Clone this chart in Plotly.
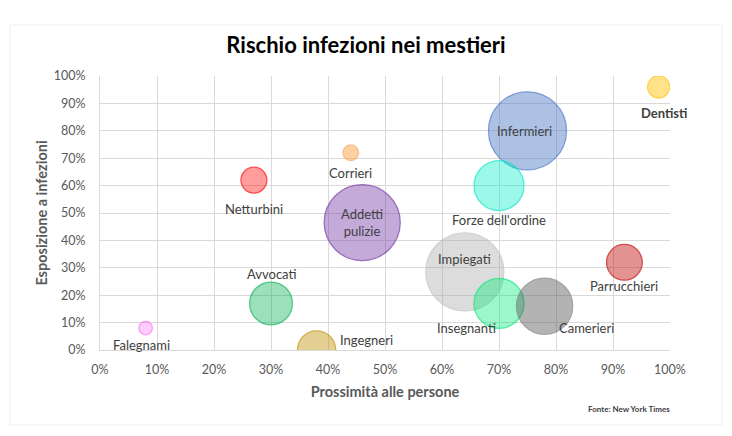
import plotly.graph_objects as go

# ---- data ----
mestieri = ["Dentisti", "Infermieri", "Forze dell'ordine", "Corrieri", "Netturbini",
            "Addetti<br>pulizie", "Impiegati", "Insegnanti", "Camerieri", "Parrucchieri",
            "Avvocati", "Falegnami", "Ingegneri"]
prossimita = [0.98, 0.75, 0.70, 0.44, 0.27, 0.46, 0.64, 0.70, 0.78, 0.92, 0.30, 0.08, 0.38]
esposizione = [0.96, 0.80, 0.60, 0.72, 0.62, 0.465, 0.285, 0.17, 0.16, 0.32, 0.17, 0.08, 0.00]
dimensione = [8, 100, 41, 4, 11, 95, 100, 41, 52, 21, 30, 3, 24]
x_ticks = [i / 10 for i in range(11)]
y_ticks = [i / 10 for i in range(11)]

# ---- styles ----
fills = ["rgba(255,192,0,0.65)", "rgba(68,114,196,0.62)", "rgba(0,240,200,0.55)",
         "rgba(255,153,51,0.65)", "rgba(255,0,0,0.55)", "rgba(112,48,160,0.58)",
         "rgba(166,166,166,0.55)", "rgba(0,235,120,0.55)", "rgba(89,89,89,0.65)",
         "rgba(192,0,0,0.6)", "rgba(0,176,80,0.55)", "rgba(255,102,255,0.45)",
         "rgba(191,144,0,0.6)"]
lines = ["#FFC000", "#4472C4", "#00E6C3", "#F4A460", "#FF0000", "#7030A0",
         "#BFBFBF", "#00E676", "#7F7F7F", "#C00000", "#00B050", "#FF66FF", "#BF9000"]
# label offsets in pixels (xshift, yshift)
offsets = [(5, -26), (-3, 0), (0, -34), (0, -20), (0, -29), (0, 0),
           (0, 13), (-33, -25), (42, -22), (0, -24), (0, 29), (-4, -17), (50, 10)]
bold = [True] + [False] * 12

FONT = "Lato, Open Sans, sans-serif"
W, H = 724, 428          # page body has an 8px margin
L, R, T, B = 92, 62, 68, 86
PW, PH = W - L - R, H - T - B

max_d = 78
fig = go.Figure()
fig.add_trace(go.Scatter(
    x=prossimita, y=esposizione, mode="markers",
    marker=dict(size=dimensione, sizemode="area", sizeref=2.0 * max(dimensione) / max_d ** 2,
                color=fills, line=dict(color=lines, width=1.3)),
    hoverinfo="skip", showlegend=False))

for name, xv, yv, (dx, dy), b in zip(mestieri, prossimita, esposizione, offsets, bold):
    fig.add_annotation(x=xv, y=yv, xref="x", yref="y", text=f"<b>{name}</b>" if b else name,
                       showarrow=False, xshift=dx, yshift=dy,
                       font=dict(family=FONT, size=13, color="#404040"))

fig.update_layout(
    width=W, height=H,
    margin=dict(l=L, r=R, t=T, b=B),
    paper_bgcolor="white", plot_bgcolor="white",
    title=dict(text="<b>Rischio infezioni nei mestieri</b>", x=(366 - 8) / W, xanchor="center",
               y=1 - (45 - 8) / H, yanchor="middle",
               font=dict(family=FONT, size=22, color="#000000")),
    font=dict(family=FONT, color="#595959"),
    xaxis=dict(range=[0, 1], tickvals=x_ticks, tickformat=".0%", showgrid=True,
               gridcolor="#D9D9D9", gridwidth=1, zeroline=False, showline=True,
               linecolor="#D9D9D9", mirror=False, ticks="", ticklabelstandoff=8,
               tickfont=dict(size=12.5, color="#595959"),
               title=dict(text="<b>Prossimità alle persone</b>", standoff=10,
                          font=dict(size=14.5, color="#595959"))),
    yaxis=dict(range=[0, 1], tickvals=y_ticks, tickformat=".0%", showgrid=True,
               gridcolor="#D9D9D9", gridwidth=1, zeroline=False, showline=True,
               linecolor="#D9D9D9", ticks="", ticklabelstandoff=11,
               tickfont=dict(size=12.5, color="#595959"),
               title=dict(text="<b>Esposizione a infezioni</b>", standoff=2,
                          font=dict(size=14.5, color="#595959"))),
)

fig.add_annotation(x=(672 - 8 - L) / PW, y=(T + PH - (409 - 8)) / PH, xref="paper", yref="paper",
                   text="<b>Fonte: New York Times</b>", showarrow=False,
                   xanchor="right", yanchor="middle",
                   font=dict(family=FONT, size=8, color="#404040"))

fig.add_shape(type="rect", xref="paper", yref="paper",
              x0=(2 - L) / PW, x1=(714 - L) / PW,
              y0=(T + PH - 417) / PH, y1=(T + PH - 17) / PH,
              line=dict(color="#EFEFEF", width=1), layer="below")

fig.write_html("out.html")
